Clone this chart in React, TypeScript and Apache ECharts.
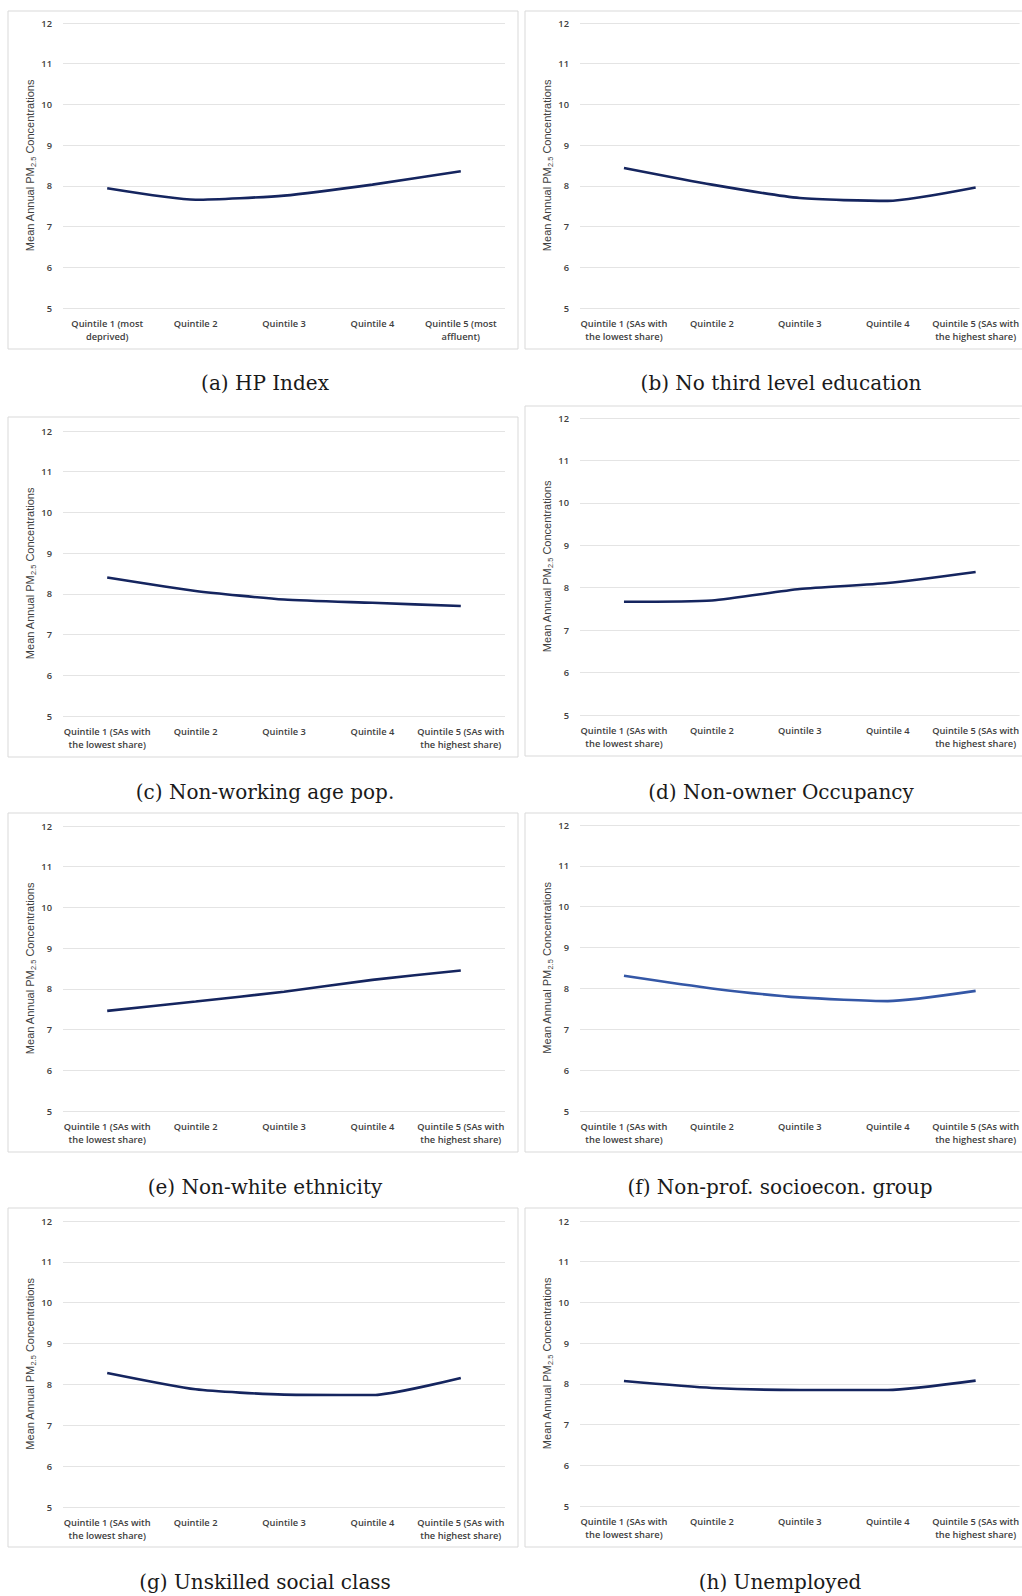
import React, { useEffect, useRef } from "react";
import * as echarts from "echarts";

// ---------- data ----------
const categoriesHP = [
  "Quintile 1 (most\ndeprived)",
  "Quintile 2",
  "Quintile 3",
  "Quintile 4",
  "Quintile 5 (most\naffluent)",
];
const categoriesShare = [
  "Quintile 1 (SAs with\nthe lowest share)",
  "Quintile 2",
  "Quintile 3",
  "Quintile 4",
  "Quintile 5 (SAs with\nthe highest share)",
];
const yMin = 5;
const yMax = 12;
const yInterval = 1;

const hpIndex = [7.94, 7.66, 7.76, 8.03, 8.36];
const noThirdLevel = [8.44, 8.03, 7.7, 7.63, 7.96];
const nonWorkingAge = [8.4, 8.07, 7.86, 7.78, 7.7];
const nonOwner = [7.67, 7.7, 7.97, 8.11, 8.37];
const nonWhite = [7.46, 7.69, 7.93, 8.22, 8.45];
const nonProf = [8.31, 8.0, 7.78, 7.69, 7.94];
const unskilled = [8.28, 7.88, 7.75, 7.74, 8.16];
const unemployed = [8.07, 7.9, 7.85, 7.85, 8.08];

const captions = [
  "(a) HP Index",
  "(b) No third level education",
  "(c) Non-working age pop.",
  "(d) Non-owner Occupancy",
  "(e) Non-white ethnicity",
  "(f) Non-prof. socioecon. group",
  "(g) Unskilled social class",
  "(h) Unemployed",
];

// ---------- layout ----------
const panels = [
  { values: hpIndex, cats: categoriesHP, grid: [63, 23, 442, 285], box: [8, 11, 510, 338], cap: [265, 383], color: "#15255f" },
  { values: noThirdLevel, cats: categoriesShare, grid: [580, 23, 441, 285], box: [525, 11, 520, 338], cap: [781, 383], color: "#15255f" },
  { values: nonWorkingAge, cats: categoriesShare, grid: [63, 431, 442, 285], box: [8, 417, 510, 340], cap: [265, 792], color: "#15255f" },
  { values: nonOwner, cats: categoriesShare, grid: [580, 418, 441, 297], box: [525, 406, 520, 350], cap: [781, 792], color: "#15255f" },
  { values: nonWhite, cats: categoriesShare, grid: [63, 826, 442, 285], box: [8, 813, 510, 339], cap: [265, 1187], color: "#15255f" },
  { values: nonProf, cats: categoriesShare, grid: [580, 825, 441, 286], box: [525, 813, 520, 339], cap: [780, 1187], color: "#3457a6" },
  { values: unskilled, cats: categoriesShare, grid: [63, 1221, 442, 286], box: [8, 1208, 510, 339], cap: [265, 1582], color: "#15255f" },
  { values: unemployed, cats: categoriesShare, grid: [580, 1221, 441, 285], box: [525, 1208, 520, 339], cap: [780, 1582], color: "#15255f" },
];

const tickFont = "Open Sans";
const nameFont = "Liberation Sans";
const labelColor = "#404040";

export default function App() {
  const ref = useRef<HTMLDivElement>(null);

  useEffect(() => {
    document.body.style.margin = "0";
    if (!ref.current) return;
    const chart = echarts.init(ref.current, null, { renderer: "svg" });

    const grids: any[] = [];
    const xAxes: any[] = [];
    const yAxes: any[] = [];
    const series: any[] = [];
    const graphic: any[] = [];

    panels.forEach((p, i) => {
      const [l, t, w, h] = p.grid;
      grids.push({ left: l, top: t, width: w, height: h, containLabel: false });
      xAxes.push({
        type: "category",
        gridIndex: i,
        data: p.cats,
        boundaryGap: true,
        axisLine: { show: false },
        axisTick: { show: false },
        axisLabel: {
          interval: 0,
          margin: 9,
          fontFamily: tickFont,
          fontWeight: 600,
          fontSize: 9.3,
          lineHeight: 13,
          color: labelColor,
        },
      });
      yAxes.push({
        type: "value",
        gridIndex: i,
        min: yMin,
        max: yMax,
        interval: yInterval,
        axisLine: { show: false },
        axisTick: { show: false },
        splitLine: { lineStyle: { color: "#e4e4e4", width: 1 } },
        axisLabel: {
          margin: 11,
          fontFamily: tickFont,
          fontWeight: 600,
          fontSize: 9.3,
          color: labelColor,
        },
        name: "{m|Mean Annual PM}{s|2.5}{m| Concentrations}",
        nameLocation: "middle",
        nameRotate: 90,
        nameGap: 25,
        nameTextStyle: {
          fontFamily: nameFont,
          fontSize: 11,
          color: labelColor,
          rich: {
            m: { fontFamily: nameFont, fontSize: 11, color: labelColor, lineHeight: 14 },
            s: { fontFamily: nameFont, fontSize: 7.5, color: labelColor, verticalAlign: "bottom", lineHeight: 14 },
          },
        },
      });
      series.push({
        type: "line",
        xAxisIndex: i,
        yAxisIndex: i,
        data: p.values,
        smooth: 0.2,
        showSymbol: false,
        symbol: "none",
        lineStyle: { color: p.color, width: 2.6 },
      });
      const [bx, by, bw, bh] = p.box;
      graphic.push({
        type: "rect",
        shape: { x: bx, y: by, width: bw, height: bh },
        style: { fill: "none", stroke: "#d9d9d9", lineWidth: 1 },
        silent: true,
      });
      graphic.push({
        type: "text",
        x: p.cap[0],
        y: p.cap[1],
        style: {
          text: captions[i],
          fontFamily: "DejaVu Serif",
          fontSize: 20,
          fill: "#1a1a1a",
          textAlign: "center",
          textVerticalAlign: "middle",
        },
        silent: true,
      });
    });

    chart.setOption({
      animation: false,
      backgroundColor: "#ffffff",
      grid: grids,
      xAxis: xAxes,
      yAxis: yAxes,
      series,
      graphic,
    });

    return () => chart.dispose();
  }, []);

  return <div ref={ref} style={{ width: 1022, height: 1596 }} />;
}
